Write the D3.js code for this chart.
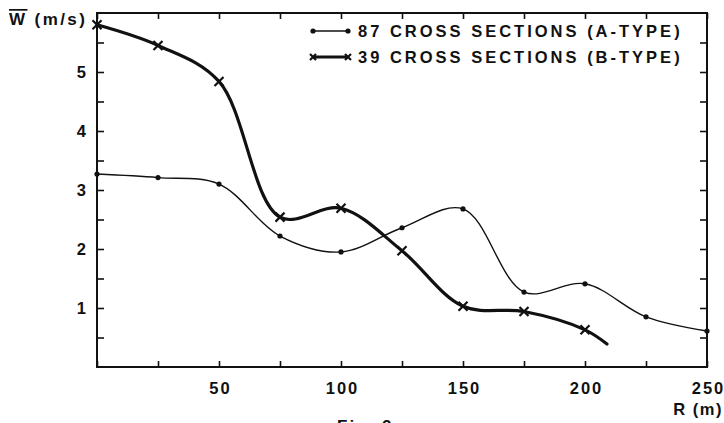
<!DOCTYPE html>
<html>
<head>
<meta charset="utf-8">
<script src="https://cdn.jsdelivr.net/npm/d3@7"></script>
<style>
  body { margin: 0; background: #fff; }
  svg { display: block; }
  text { font-family: "Liberation Sans", Arial, sans-serif; fill: #111; font-weight: bold; }
</style>
</head>
<body>
<div id="chart-wrap"></div>
<script>
const width = 724;
const height = 423;
const margin = {top: 13, right: 17, bottom: 56, left: 97};

// A-type: 87 cross sections
const radiusA = [0, 25, 50, 75, 100, 125, 150, 175, 200, 225, 250];
const windA = [3.27, 3.21, 3.10, 2.22, 1.95, 2.36, 2.68, 1.27, 1.41, 0.85, 0.61];
// B-type: 39 cross sections (last point is the line end, no marker)
const radiusB = [0, 25, 50, 75, 100, 125, 150, 175, 200, 209];
const windB = [5.80, 5.45, 4.84, 2.54, 2.69, 1.97, 1.03, 0.94, 0.63, 0.39];
const markedB = 9;

const xTicks = [0, 25, 50, 75, 100, 125, 150, 175, 200, 225, 250];
const xLabels = [50, 100, 150, 200, 250];
const yTicks = [0.5, 1, 1.5, 2, 2.5, 3, 3.5, 4, 4.5, 5, 5.5];
const yLabels = [1, 2, 3, 4, 5];
const legendLabels = ["87 CROSS SECTIONS (A-TYPE)", "39 CROSS SECTIONS (B-TYPE)"];

const svg = d3.select('#chart-wrap')
    .append('svg')
    .attr('width', width)
    .attr('height', height);

const x = d3.scaleLinear()
    .domain([0, 250])
    .range([margin.left, width - margin.right]);

const y = d3.scaleLinear()
    .domain([0, 6])
    .range([height - margin.bottom, margin.top]);

const fontTick = 16.5;

function styleTicks(g){
    g.selectAll('line').attr('stroke', '#111').attr('stroke-width', 1.6);
}

function xAxisBottom(g){
    g.attr('transform', `translate(0, ${y(0)})`)
        .call(d3.axisBottom(x).tickValues(xTicks).tickSize(-6).tickSizeOuter(0)
            .tickFormat(d => xLabels.includes(d) ? d : ''))
        .call(g => g.select('.domain').remove());
    styleTicks(g);
    g.selectAll('text')
        .attr('y', 27).attr('dy', null)
        .attr('dx', '1px')
        .attr('font-size', fontTick)
        .attr('letter-spacing', '2px')
        .attr('font-family', '"Liberation Sans", Arial, sans-serif')
        .attr('fill', '#111');
}

function xAxisTop(g){
    g.attr('transform', `translate(0, ${y(6)})`)
        .call(d3.axisTop(x).tickValues(xTicks).tickSize(-6).tickSizeOuter(0).tickFormat(''))
        .call(g => g.select('.domain').remove());
    styleTicks(g);
}

function yAxisLeft(g){
    g.attr('transform', `translate(${x(0)}, 0)`)
        .call(d3.axisLeft(y).tickValues(yTicks).tickSize(-7).tickSizeOuter(0)
            .tickFormat(d => yLabels.includes(d) ? d : ''))
        .call(g => g.select('.domain').remove());
    styleTicks(g);
    g.selectAll('text')
        .attr('x', -11).attr('dy', '0.36em')
        .attr('font-size', fontTick)
        .attr('font-family', '"Liberation Sans", Arial, sans-serif')
        .attr('fill', '#111');
}

function yAxisRight(g){
    g.attr('transform', `translate(${x(250)}, 0)`)
        .call(d3.axisRight(y).tickValues(yTicks).tickSize(-7).tickSizeOuter(0).tickFormat(''))
        .call(g => g.select('.domain').remove());
    styleTicks(g);
}

svg.append('g').call(xAxisBottom);
svg.append('g').call(xAxisTop);
svg.append('g').call(yAxisLeft);
svg.append('g').call(yAxisRight);

// frame
svg.append('rect')
    .attr('x', x(0)).attr('y', y(6))
    .attr('width', x(250) - x(0)).attr('height', y(0) - y(6))
    .attr('fill', 'none').attr('stroke', '#111').attr('stroke-width', 2);

const line = d3.line()
    .x(d => x(d[0]))
    .y(d => y(d[1]))
    .curve(d3.curveCatmullRom.alpha(0.5));

const ptsA = radiusA.map((r, i) => [r, windA[i]]);
const ptsB = radiusB.map((r, i) => [r, windB[i]]);

svg.append('path')
    .attr('d', line(ptsA))
    .attr('fill', 'none').attr('stroke', '#111').attr('stroke-width', 1.4);

svg.append('path')
    .attr('d', line(ptsB))
    .attr('fill', 'none').attr('stroke', '#111').attr('stroke-width', 3.2)
    .attr('stroke-linejoin', 'round').attr('stroke-linecap', 'round');

function dot(g, cx, cy){
    g.append('circle').attr('cx', cx).attr('cy', cy).attr('r', 2.6).attr('fill', '#111');
}
function cross(g, cx, cy, s = 4.5){
    g.append('path')
        .attr('d', `M${cx - s},${cy - s}L${cx + s},${cy + s}M${cx - s},${cy + s}L${cx + s},${cy - s}`)
        .attr('stroke', '#111').attr('stroke-width', 2.2);
}

const marks = svg.append('g');
ptsA.forEach(d => dot(marks, x(d[0]), y(d[1])));
ptsB.slice(0, markedB).forEach(d => cross(marks, x(d[0]), y(d[1])));

// legend
const legend = svg.append('g');
legendLabels.forEach((label, i) => {
    const ly = 31 + i * 26;
    const g = legend.append('g');
    g.append('line')
        .attr('x1', 313).attr('x2', 348).attr('y1', ly).attr('y2', ly)
        .attr('stroke', '#111').attr('stroke-width', i === 0 ? 1.4 : 3);
    if (i === 0) { dot(g, 313, ly); dot(g, 348, ly); }
    else { cross(g, 313, ly, 3); cross(g, 348, ly, 3); }
    g.append('text')
        .attr('x', 358).attr('y', ly + 6)
        .attr('font-size', 16.5)
        .attr('letter-spacing', '3px')
        .text(label);
});

// axis titles
const yTitle = svg.append('text')
    .attr('x', 9).attr('y', 25)
    .attr('font-size', 17)
    .attr('letter-spacing', '2.4px');
yTitle.append('tspan').style('text-decoration', 'overline').text('W');
yTitle.append('tspan').text(' (m/s)');

svg.append('text')
    .attr('x', 723).attr('y', 415)
    .attr('text-anchor', 'end')
    .attr('font-size', 16.5)
    .attr('letter-spacing', '1.5px')
    .text('R (m)');

svg.append('text')
    .attr('x', 337).attr('y', 432)
    .attr('font-size', 17)
    .attr('letter-spacing', '2px')
    .text('Fig. 2');
</script>
</body>
</html>
